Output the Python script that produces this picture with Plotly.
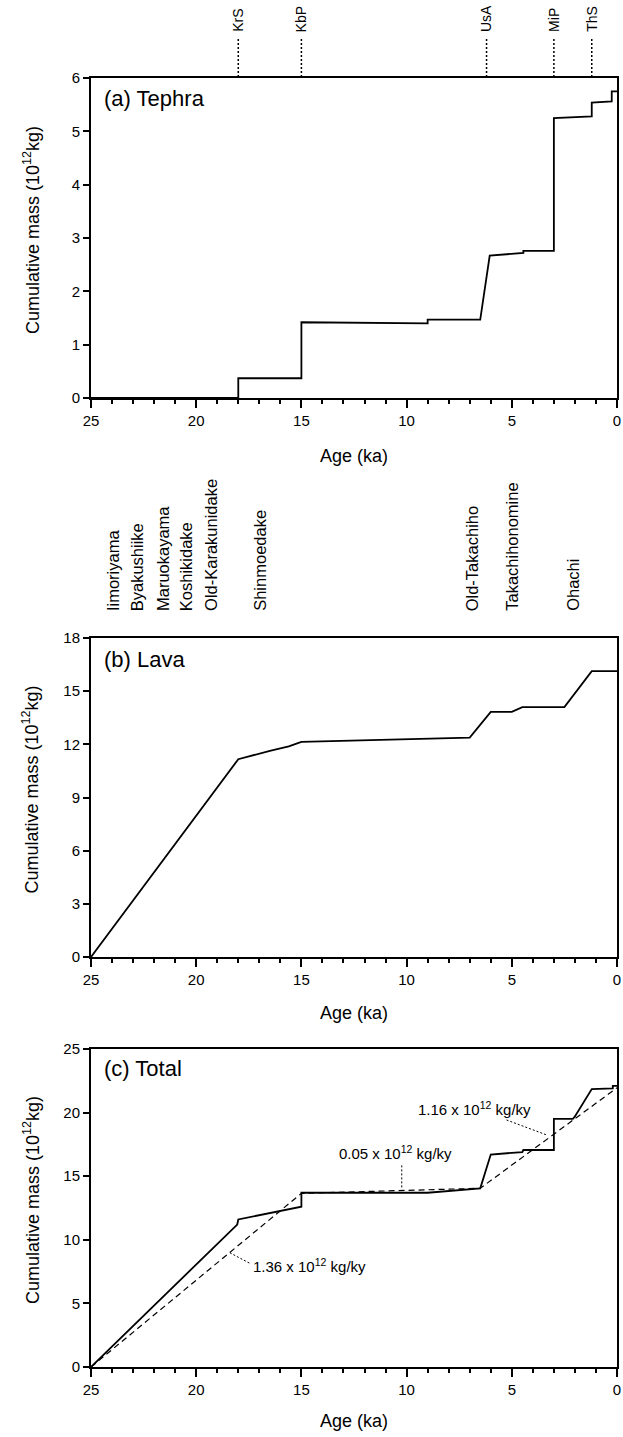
import plotly.graph_objects as go

# ---------------- data ----------------
tephra_age = [25, 18.0, 18.0, 15.0, 15.0, 9.0, 9.0, 6.5, 6.05, 4.45, 4.45, 3.0, 3.0, 2.0, 1.2, 1.2, 0.25, 0.25, 0]
tephra_mass = [0, 0, 0.37, 0.37, 1.42, 1.40, 1.47, 1.47, 2.67, 2.72, 2.76, 2.76, 5.25, 5.27, 5.28, 5.54, 5.56, 5.75, 5.75]

lava_age = [25, 18.0, 16.5, 15.6, 15.0, 7.0, 6.0, 5.0, 4.5, 2.5, 1.2, 0]
lava_mass = [0, 11.16, 11.63, 11.88, 12.14, 12.38, 13.83, 13.83, 14.1, 14.1, 16.13, 16.13]

total_age = [25, 18.05, 18.0, 16.0, 15.0, 15.0, 9.0, 6.5, 6.0, 4.5, 4.45, 3.0, 3.0, 2.1, 2.0, 1.2, 0.2, 0.2, 0]
total_mass = [0, 11.2, 11.6, 12.3, 12.6, 13.7, 13.7, 14.05, 16.7, 16.9, 17.06, 17.06, 19.5, 19.5, 19.7, 21.85, 21.9, 22.1, 22.1]

trend_age = [25, 15, 6.5, 0]
trend_mass = [0, 13.65, 14.05, 21.95]

tephra_names = ["KrS", "KbP", "UsA", "MiP", "ThS"]
tephra_name_age = [18.0, 15.0, 6.2, 3.0, 1.2]

volcano_names = ["Iimoriyama", "Byakushiike", "Maruokayama", "Koshikidake", "Old-Karakunidake",
                 "Shinmoedake", "Old-Takachiho", "Takachihonomine", "Ohachi"]
volcano_age = [23.95, 22.8, 21.6, 20.5, 19.3, 17.0, 6.9, 5.0, 2.1]

rate_labels = ["1.36 x 10<sup>12</sup> kg/ky", "0.05 x 10<sup>12</sup> kg/ky", "1.16 x 10<sup>12</sup> kg/ky"]
rate_text_age = [17.4, 13.3, 9.55]
rate_text_mass = [8.0, 16.9, 20.35]
rate_leader_age = [[18.4, 17.45], [10.23, 10.23], [5.25, 3.34]]
rate_leader_mass = [[8.98, 8.15], [15.85, 14.0], [19.42, 18.24]]

panel_titles = ["(a) Tephra", "(b) Lava", "(c) Total"]
y_ranges = [[0, 6], [0, 18], [0, 25]]
y_dticks = [1, 3, 5]
x_ticks = [25, 20, 15, 10, 5, 0]

# ---------------- layout geometry (pixels) ----------------
W, H = 623, 1437
ML, MR, MT, MB = 91, 6, 78, 70
PH = H - MT - MB
PW = W - ML - MR


def py(ypix):
    return (H - MB - ypix) / PH


panel_pix = [(78, 398), (638, 957), (1049, 1367)]
domains = [[py(b), py(t)] for (t, b) in panel_pix]

FONT = "Liberation Sans, Arial, Helvetica, sans-serif"

fig = go.Figure()
line_style = dict(color="black", width=1.8)
fig.add_trace(go.Scatter(x=tephra_age, y=tephra_mass, mode="lines", line=line_style,
                         xaxis="x", yaxis="y", showlegend=False, hoverinfo="skip"))
fig.add_trace(go.Scatter(x=lava_age, y=lava_mass, mode="lines", line=line_style,
                         xaxis="x2", yaxis="y2", showlegend=False, hoverinfo="skip"))
fig.add_trace(go.Scatter(x=trend_age, y=trend_mass, mode="lines",
                         line=dict(color="black", width=1.2, dash="6px,4px"),
                         xaxis="x3", yaxis="y3", showlegend=False, hoverinfo="skip"))
fig.add_trace(go.Scatter(x=total_age, y=total_mass, mode="lines", line=line_style,
                         xaxis="x3", yaxis="y3", showlegend=False, hoverinfo="skip"))
for la, lm in zip(rate_leader_age, rate_leader_mass):
    fig.add_trace(go.Scatter(x=la, y=lm, mode="lines",
                             line=dict(color="black", width=1, dash="2px,2px"),
                             xaxis="x3", yaxis="y3", showlegend=False, hoverinfo="skip"))

axis_common = dict(showline=True, linecolor="black", linewidth=2, mirror=True,
                   showgrid=False, zeroline=False, ticks="outside", tickcolor="black",
                   tickwidth=1.5, automargin=False,
                   tickfont=dict(family=FONT, size=15, color="black"))

layout = dict(width=W, height=H, margin=dict(l=ML, r=MR, t=MT, b=MB, autoexpand=False),
              paper_bgcolor="white", plot_bgcolor="white", showlegend=False,
              font=dict(family=FONT, color="black"))

for i in range(3):
    s = "" if i == 0 else str(i + 1)
    layout["xaxis" + s] = dict(axis_common, domain=[0, 1], range=[25, 0], autorange=False,
                               tickvals=x_ticks, ticklen=8, anchor="y" + s,
                               minor=dict(dtick=1, ticks="outside", ticklen=4,
                                          tickcolor="black", tickwidth=1.5))
    layout["yaxis" + s] = dict(axis_common, domain=domains[i], range=y_ranges[i],
                               autorange=False, dtick=y_dticks[i], ticklen=6,
                               anchor="x" + s)

annotations = []
title_y = [98, 659, 1068]
for i in range(3):
    annotations.append(dict(text=panel_titles[i], xref="paper", yref="paper",
                            x=(102 - ML) / PW, y=py(title_y[i]),
                            xanchor="left", yanchor="middle", showarrow=False,
                            font=dict(family=FONT, size=22, color="black")))
age_y = [456, 1013, 1421]
for i in range(3):
    t, b = panel_pix[i]
    annotations.append(dict(text="Cumulative mass (10<sup>12</sup>kg)", xref="paper", yref="paper",
                            x=(31 - ML) / PW, y=py((t + b) / 2 - 8),
                            xanchor="center", yanchor="middle", textangle=-90, showarrow=False,
                            font=dict(family=FONT, size=18, color="black")))
    annotations.append(dict(text="Age (ka)", xref="paper", yref="paper",
                            x=0.5, y=py(age_y[i]), xanchor="center", yanchor="middle",
                            showarrow=False, font=dict(family=FONT, size=18, color="black")))
for name, a in zip(tephra_names, tephra_name_age):
    annotations.append(dict(text=name, xref="x", yref="paper", x=a, y=py(34),
                            xanchor="center", yanchor="bottom", textangle=-90, showarrow=False,
                            font=dict(family=FONT, size=14, color="black")))
for name, a in zip(volcano_names, volcano_age):
    annotations.append(dict(text=name, xref="x", yref="paper", x=a, y=py(613),
                            xanchor="center", yanchor="bottom", textangle=-90, showarrow=False,
                            font=dict(family=FONT, size=16.5, color="black")))
for txt, a, m in zip(rate_labels, rate_text_age, rate_text_mass):
    annotations.append(dict(text=txt, xref="x3", yref="y3", x=a, y=m,
                            xanchor="left", yanchor="middle", showarrow=False,
                            font=dict(family=FONT, size=15, color="black")))
layout["annotations"] = annotations

shapes = []
for a in tephra_name_age:
    shapes.append(dict(type="line", xref="x", yref="paper", x0=a, x1=a,
                       y0=py(39), y1=py(76), line=dict(color="black", width=1.5, dash="2px,2px")))
layout["shapes"] = shapes

fig.update_layout(**layout)
fig.write_html("out.html", config={"displayModeBar": False},
               post_script="document.body.style.margin='0px';document.body.style.overflow='hidden';")
